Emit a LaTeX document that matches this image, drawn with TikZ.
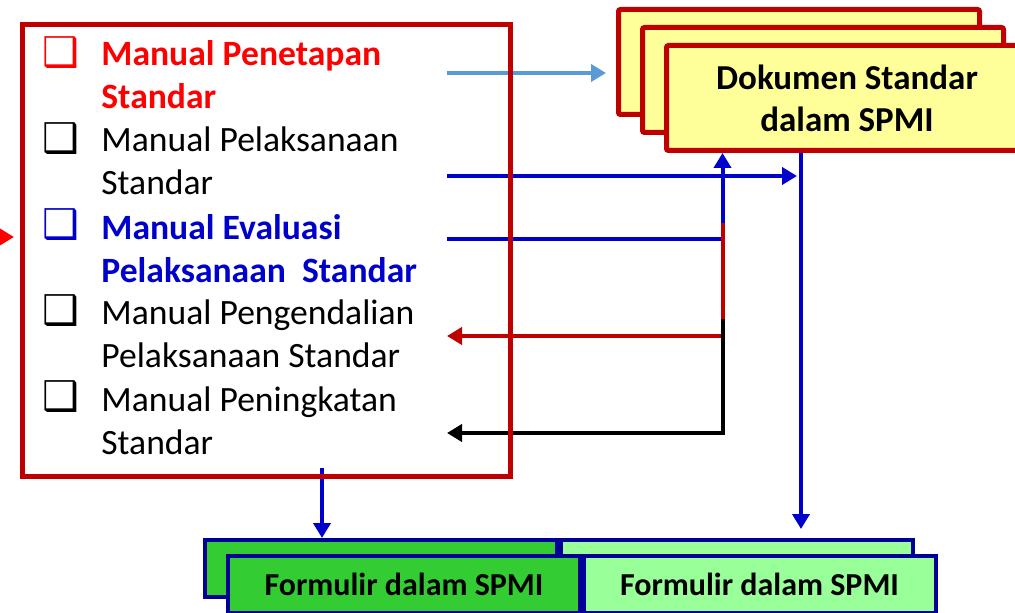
\documentclass[tikz,border=0pt]{standalone}
\usepackage{fontspec}
\setmainfont{Carlito}
\newfontfamily\symfont{DejaVu Sans}
\usetikzlibrary{arrows.meta, positioning}
\definecolor{spmiRed}{HTML}{C00000}
\definecolor{spmiBright}{HTML}{FF0000}
\definecolor{spmiBlue}{HTML}{0000CC}
\definecolor{spmiSky}{HTML}{5B9BD5}
\definecolor{spmiNavy}{HTML}{000099}
\definecolor{spmiYellow}{HTML}{FFFF99}
\definecolor{spmiGreen}{HTML}{33CC33}
\definecolor{spmiMint}{HTML}{99FF99}

\begin{document}
\begin{tikzpicture}[
    x=0.5pt, y=-0.5pt,
    doc/.style={
      rectangle, rounded corners=1pt, draw=spmiRed, line width=2.5pt, fill=spmiYellow,
      minimum width=180.5pt, minimum height=52.5pt, align=center,
      font=\fontsize{17.5}{21}\selectfont\bfseries
    },
    form/.style={
      rectangle, draw=spmiNavy, line width=2pt, inner sep=0pt,
      minimum width=176pt, minimum height=28.5pt,
      font=\fontsize{16}{19}\selectfont\bfseries
    },
    item/.style={anchor=base west, align=left, inner sep=0pt, font=\fontsize{17.8}{21.5}\selectfont},
    itembf/.style={item, font=\fontsize{17.8}{21.5}\selectfont\bfseries},
    tick/.style={anchor=base west, inner sep=0pt, font=\symfont\bfseries\fontsize{20.5}{24}\selectfont},
    arr/.style={line width=2pt, -{Triangle[length=7.5pt, width=8.5pt]}}
  ]
    \useasboundingbox (0,0) rectangle (1015,613);

    % stacked documents
    \node[doc] (doc1) at (799,62) {};
    \node[doc] (doc2) at (823,80) {};
    \node[doc] (doc3) at (847,98) {Dokumen Standar\\dalam SPMI};

    % forms
    \node[form, fill=spmiGreen] (formA1) at (381,568.5) {};
    \node[form, fill=spmiMint] (formB1) at (737,568.5) {};
    \node[form, fill=spmiGreen] (formA2) at (404,584.5) {Formulir dalam SPMI};
    \node[form, fill=spmiMint] (formB2) at (759.5,584.5) {Formulir dalam SPMI};

    \coordinate (s1) at (447,73);
    \coordinate (s2) at (447,176);
    \coordinate (s3) at (447,239);
    \coordinate (t4) at (447,336);
    \coordinate (t5) at (447,433);
    \coordinate (s6) at (322,468);
    \coordinate (riser) at (722.5,223);
    \coordinate (knee) at (722.5,319);
    \coordinate (drop) at (801,153);

    \draw[arr, spmiSky, line width=2.2pt, shorten >=5pt] (s1) -- (s1 -| doc1.west);
    \draw[arr, spmiBlue, shorten >=2pt] (s2) -- (s2 -| drop);
    \draw[arr, spmiBlue, shorten >=4.5pt] (drop) -- (drop |- formB1.north);
    \draw[arr, spmiBlue] (s3) -| (doc3.south -| riser);
    \draw[arr, spmiRed] (riser) |- (t4);
    \draw[arr, black] (knee) |- (t5);
    \draw[arr, spmiBlue] (s6) -- (s6 |- formA1.north);

    % manual box
    \node[draw=spmiRed, line width=2.5pt, minimum width=244pt, minimum height=226pt] (manual) at (266.5,250.3) {};
    \coordinate (s7) at (-40,237);
    \draw[arr, spmiBright] (s7) -- ([xshift=-3pt]s7 -| manual.west);

    \node[tick, text=spmiBright] (b1) at (42,67) {❑};
    \node[tick] (b2) at (42,153) {❑};
    \node[tick, text=spmiBlue] (b3) at (42,239) {❑};
    \node[tick] (b4) at (42,325) {❑};
    \node[tick] (b5) at (42,411) {❑};

    \node[itembf, text=spmiBright] (penetapan) at (101,109) {Manual Penetapan\\Standar};
    \node[item] (pelaksanaan) at (101,195) {Manual Pelaksanaan\\Standar};
    \node[itembf, text=spmiBlue] (evaluasi) at (101,283) {Manual Evaluasi\\Pelaksanaan\ \ Standar};
    \node[item] (pengendalian) at (101,368) {Manual Pengendalian\\Pelaksanaan Standar};
    \node[item] (peningkatan) at (101,455) {Manual Peningkatan\\Standar};
\end{tikzpicture}
\end{document}
